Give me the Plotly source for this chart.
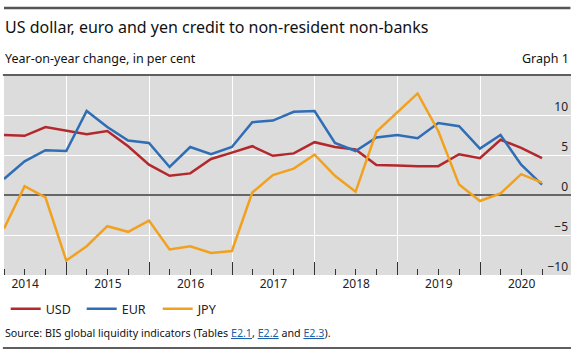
import pandas as pd
import plotly.graph_objects as go

# Quarterly observations (end of quarter), 2014 Q1 - 2020 Q3
quarters = pd.date_range("2014-03-31", periods=27, freq="QE")

usd = [7.5, 7.4, 8.5, 8.0, 7.6, 8.0, 6.1, 3.8, 2.4, 2.7,
       4.5, 5.3, 6.1, 4.9, 5.2, 6.6, 6.0, 5.7, 3.75, 3.7,
       3.6, 3.6, 5.1, 4.6, 6.9, 5.9, 4.6]
eur = [2.0, 4.2, 5.6, 5.5, 10.5, 8.5, 6.8, 6.5, 3.5, 6.0,
       5.1, 6.0, 9.1, 9.3, 10.4, 10.5, 6.5, 5.5, 7.2, 7.5,
       7.1, 9.0, 8.6, 5.8, 7.5, 3.8, 1.3]
jpy = [-4.2, 1.1, -0.3, -8.2, -6.4, -3.9, -4.6, -3.2, -6.8, -6.4,
       -7.25, -7.0, 0.3, 2.5, 3.3, 5.05, 2.4, 0.4, 7.9, 10.3,
       12.7, 8.0, 1.3, -0.75, 0.2, 2.6, 1.55]

series_names = ["USD", "EUR", "JPY"]
series_values = [usd, eur, jpy]
colors = ["#b3282d", "#2f6db5", "#f2a11f"]
y_ticks = [-10, -5, 0, 5, 10]
FONT = "Noto Sans"

fig = go.Figure()
for name, vals, col in zip(series_names, series_values, colors):
    fig.add_trace(go.Scatter(x=quarters, y=vals, name=name, mode="lines",
                             line=dict(color=col, width=2.5)))

fig.update_layout(
    width=575, height=353,
    margin=dict(l=4, r=4, t=75, b=78),
    paper_bgcolor="white", plot_bgcolor="#dcdcdc",
    font=dict(family=FONT, size=12, color="#222"),
    showlegend=True,
    legend=dict(orientation="h", x=0.003, xanchor="left", y=-0.17, yanchor="middle",
                font=dict(size=12.5, color="#222"), entrywidth=31,
                bgcolor="rgba(0,0,0,0)", tracegroupgap=0),
)
fig.update_xaxes(
    type="date", range=["2014-03-31", "2021-02-05"],
    dtick="M12", tick0="2014-01-01", tickformat="%Y", ticklabelmode="period",
    ticks="inside", ticklen=13, tickwidth=1.2, tickcolor="#333",
    showgrid=True, gridcolor="white", gridwidth=1, showline=False, zeroline=False,
    tickfont=dict(size=12, color="#222"),
    minor=dict(dtick="M3", tick0="2014-01-01", ticks="inside", ticklen=6,
               tickwidth=1.2, tickcolor="#333", showgrid=False),
)
fig.update_yaxes(
    range=[-10, 15], side="right", tickvals=y_ticks, ticklabelposition="inside top",
    showgrid=True, gridcolor="white", gridwidth=1,
    zeroline=True, zerolinecolor="#666", zerolinewidth=1.5,
    showline=False, ticks="", tickfont=dict(size=12, color="#222"),
)

# horizontal rules: top of page, top of plot, bottom of page
fig.add_shape(type="line", xref="paper", yref="paper",
              x0=0.0, x1=0.999, y0=1.335, y1=1.335,
              line=dict(color="#555555", width=2.5))
for yv in [1.0, -0.365]:
    fig.add_shape(type="line", xref="paper", yref="paper",
                  x0=-0.002, x1=1.0, y0=yv, y1=yv,
                  line=dict(color="#5f5f5f", width=2))

fig.add_annotation(text="US dollar, euro and yen credit to non-resident non-banks",
                   xref="paper", yref="paper", x=-0.002, y=1.24,
                   xanchor="left", yanchor="middle", showarrow=False,
                   font=dict(size=16, color="#111", family=FONT))
fig.add_annotation(text="Year-on-year change, in per cent",
                   xref="paper", yref="paper", x=-0.002, y=1.085,
                   xanchor="left", yanchor="middle", showarrow=False,
                   font=dict(size=12.5, color="#111", family=FONT))
fig.add_annotation(text="Graph 1",
                   xref="paper", yref="paper", x=1.0, y=1.085,
                   xanchor="right", yanchor="middle", showarrow=False,
                   font=dict(size=12.5, color="#111", family=FONT))
link = "<span style='color:#1f5fa8'><u>{}</u></span>"
fig.add_annotation(text="Source: BIS global liquidity indicators (Tables "
                        + link.format("E2.1") + ", " + link.format("E2.2")
                        + " and " + link.format("E2.3") + ").",
                   xref="paper", yref="paper", x=-0.002, y=-0.29,
                   xanchor="left", yanchor="middle", showarrow=False,
                   font=dict(size=10.7, color="#111", family=FONT))

fig.write_html("out.html")
